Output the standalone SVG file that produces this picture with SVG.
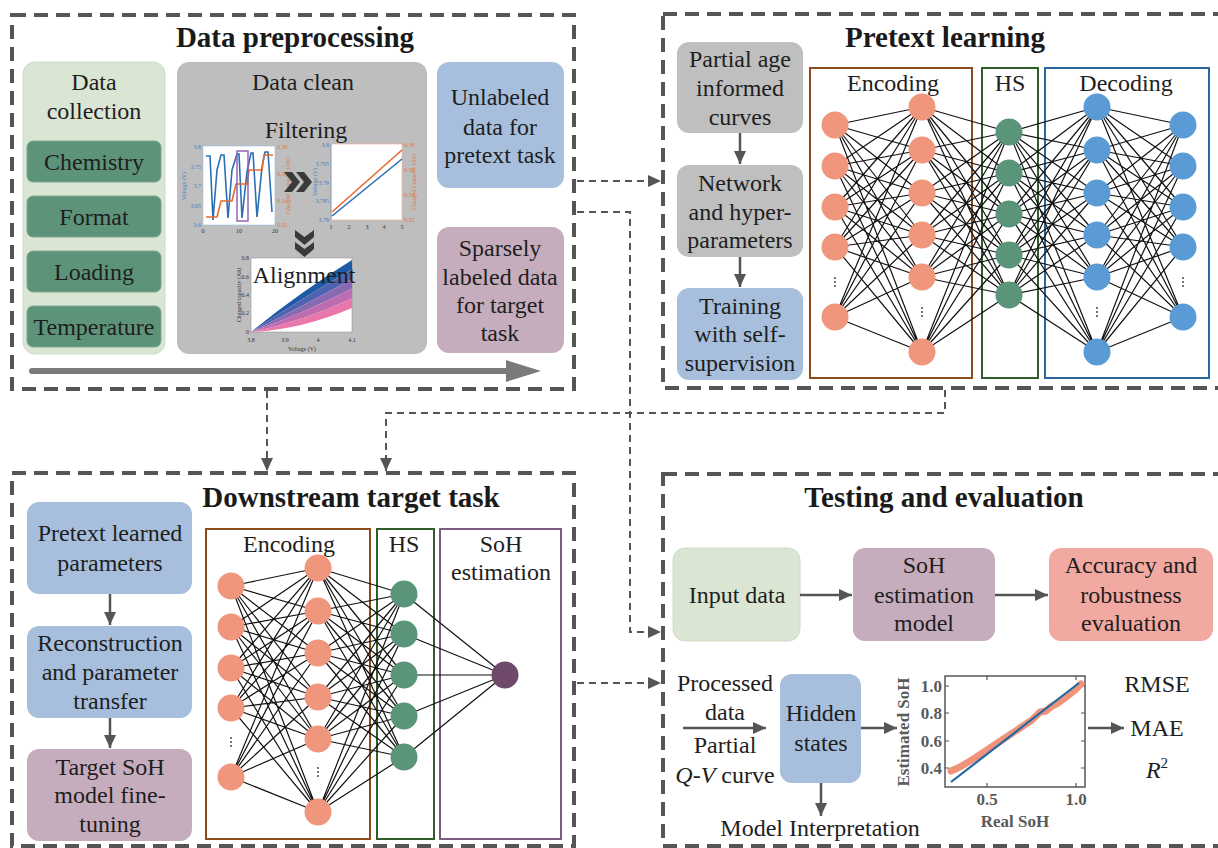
<svg xmlns="http://www.w3.org/2000/svg" width="1218" height="848" viewBox="0 0 1218 848">
<defs>
<style>
.t{font-family:"Liberation Serif","Times New Roman",serif;font-size:24px;fill:#1e1e1e;text-anchor:middle}
.ttl{font-family:"Liberation Serif","Times New Roman",serif;font-size:29px;font-weight:bold;fill:#1a1a1a;text-anchor:middle}
.dbox{fill:none;stroke:#555;stroke-width:4;stroke-dasharray:14 8}
.conn{fill:none;stroke:#555;stroke-width:2;stroke-dasharray:7 5}
.arr{fill:none;stroke:#555;stroke-width:2.5}
.edge{fill:none;stroke:#111;stroke-width:1.2}
.no{fill:#ef967c}
.ng{fill:#5a9479}
.nb{fill:#5b9bd5}
.sm{font-family:"Liberation Serif","Times New Roman",serif;font-size:6px}
.bl{fill:#3f80c4}
.or{fill:#e0773f}
.pl{font-family:"Liberation Serif","Times New Roman",serif;font-size:17px;fill:#5a5a5a;font-weight:bold}
.dot{fill:#333}
</style>
<marker id="ah" markerWidth="14" markerHeight="12" refX="13" refY="6" orient="auto" markerUnits="userSpaceOnUse">
<path d="M0,0 L13,6 L0,12 z" fill="#555"/>
</marker>
</defs>
<rect width="1218" height="848" fill="#ffffff"/>

<!-- Section frames -->
<g id="data-preprocessing">
<rect class="dbox" x="12" y="15" width="562" height="374"/>
<text class="ttl" x="295" y="47">Data preprocessing</text>
</g>
<g id="pretext-learning">
<rect class="dbox" x="663" y="14" width="580" height="374"/>
<text class="ttl" x="945" y="47">Pretext learning</text>
</g>
<g id="downstream-target-task">
<rect class="dbox" x="12" y="473" width="562" height="373"/>
<text class="ttl" x="351" y="507">Downstream target task</text>
</g>
<g id="testing-evaluation">
<rect class="dbox" x="663" y="474" width="580" height="372"/>
<text class="ttl" x="944" y="507">Testing and evaluation</text>
</g>

<!-- Data collection -->
<g id="data-collection">
<rect x="23" y="62" width="142" height="292" rx="12" fill="#dbe5d3" stroke="#cfdcc6"/>
<text class="t" x="94" y="90">Data</text>
<text class="t" x="94" y="119">collection</text>
</g>
<g id="chemistry"><rect x="27" y="141" width="134" height="41" rx="6" fill="#5d9479" stroke="#7aa890"/><text class="t" x="94" y="170">Chemistry</text></g>
<g id="format"><rect x="27" y="196" width="134" height="41" rx="6" fill="#5d9479" stroke="#7aa890"/><text class="t" x="94" y="225">Format</text></g>
<g id="loading"><rect x="27" y="251" width="134" height="41" rx="6" fill="#5d9479" stroke="#7aa890"/><text class="t" x="94" y="280">Loading</text></g>
<g id="temperature"><rect x="27" y="306" width="134" height="41" rx="6" fill="#5d9479" stroke="#7aa890"/><text class="t" x="94" y="335">Temperature</text></g>

<!-- Data clean -->
<g id="data-clean">
<rect x="177" y="62" width="250" height="292" rx="12" fill="#bebebe"/>
<text class="t" x="303" y="90">Data clean</text>
<text class="t" x="306" y="138">Filtering</text>
<!-- plot 1 -->
<rect x="203" y="146" width="72" height="79" fill="#fff" stroke="#9fbfe0" stroke-width="0.6"/>
<polyline fill="none" stroke="#2a6fb5" stroke-width="1.6" points="206,156 210,156 213,220 217,170 221,155 224,155 228,218 232,170 237,154 239,154 242,218 247,172 251,153 253,153 257,217 262,167 265,152 268,152 272,212"/>
<polyline fill="none" stroke="#e8692c" stroke-width="1.6" points="206,217 217,217 221,201 232,201 236,184 247,184 249,170 262,170 264,155 273,155"/>
<rect x="237" y="151" width="11" height="70" fill="none" stroke="#8a5ab0" stroke-width="1.4"/>
<g class="sm bl" text-anchor="end"><text x="201" y="149">3.8</text><text x="201" y="169">3.75</text><text x="201" y="188">3.7</text><text x="201" y="208">3.65</text><text x="201" y="227">3.6</text></g>
<g class="sm or"><text x="277" y="149">0.38</text><text x="277" y="176">0.36</text><text x="277" y="203">0.34</text><text x="277" y="227">0.32</text></g>
<g class="sm" fill="#333" text-anchor="middle"><text x="203" y="233">0</text><text x="239" y="233">10</text><text x="275" y="233">20</text></g>
<text class="sm bl" font-size="5.5" text-anchor="middle" transform="translate(186,186) rotate(-90)">Voltage (V)</text>
<text class="sm or" font-size="5.5" text-anchor="middle" transform="translate(290,186) rotate(-90)">Charged Capacity (Ah)</text>
<!-- plot 2 -->
<rect x="331" y="144" width="71" height="76" fill="#fff" stroke="#f0b090" stroke-width="0.6"/>
<line x1="331" y1="144" x2="331" y2="220" stroke="#5b9bd5" stroke-width="0.8"/>
<line x1="332" y1="216" x2="402" y2="159" stroke="#2a6fb5" stroke-width="1.6"/>
<line x1="332" y1="212" x2="402" y2="150" stroke="#e8692c" stroke-width="1.6"/>
<g class="sm bl" text-anchor="end"><text x="329" y="147">3.8</text><text x="329" y="166">3.795</text><text x="329" y="185">3.79</text><text x="329" y="203">3.785</text><text x="329" y="222">3.78</text></g>
<g class="sm or"><text x="404" y="147">0.38</text><text x="404" y="172">0.36</text><text x="404" y="197">0.34</text><text x="404" y="222">0.32</text></g>
<g class="sm" fill="#333" text-anchor="middle"><text x="331" y="229">1</text><text x="349" y="229">2</text><text x="367" y="229">3</text><text x="384" y="229">4</text><text x="402" y="229">5</text></g>
<text class="sm bl" font-size="5.5" text-anchor="middle" transform="translate(317,182) rotate(-90)">Voltage (V)</text>
<text class="sm or" font-size="5.5" text-anchor="middle" transform="translate(416,182) rotate(-90)">Charged Capacity (Ah)</text>
<!-- chevrons -->
<polygon fill="#3a3a3a" points="284,172 292,172 300,182 292,192 284,192 292,182"/>
<polygon fill="#3a3a3a" points="296,172 304,172 312,182 304,192 296,192 304,182"/>
<polygon fill="#3a3a3a" points="295,230 304.5,237 314,230 314,237 304.5,245 295,237"/>
<polygon fill="#3a3a3a" points="295,242 304.5,249 314,242 314,249 304.5,257 295,249"/>
<!-- plot 3 -->
<rect x="251" y="258" width="101" height="74" fill="#fff" stroke="#888" stroke-width="0.5"/>
<path d="M251,332 Q300,292 352,260 L352,269.6 Q300,299.6 251,332 Z" fill="#1f5aa6"/>
<path d="M251,332 Q300,299.6 352,269.6 L352,279.2 Q300,307.2 251,332 Z" fill="#4e62b0"/>
<path d="M251,332 Q300,307.2 352,279.2 L352,288.8 Q300,314.8 251,332 Z" fill="#8a69b3"/>
<path d="M251,332 Q300,314.8 352,288.8 L352,298.4 Q300,322.4 251,332 Z" fill="#bd6daf"/>
<path d="M251,332 Q300,322.4 352,298.4 L352,308 Q300,330 251,332 Z" fill="#ea77a9"/>
<g class="sm" fill="#333" text-anchor="end"><text x="249" y="260">0.8</text><text x="249" y="279">0.6</text><text x="249" y="297">0.4</text><text x="249" y="315">0.2</text><text x="249" y="334">0</text></g>
<g class="sm" fill="#333" text-anchor="middle"><text x="251" y="342">3.8</text><text x="285" y="342">3.9</text><text x="318" y="342">4</text><text x="352" y="342">4.1</text></g>
<text class="sm" fill="#333" font-size="6.5" text-anchor="middle" x="302" y="351">Voltage (V)</text>
<text class="sm" fill="#333" font-size="5.5" text-anchor="middle" transform="translate(241,295) rotate(-90)">Charged capacity (Ah)</text>
<text class="t" x="304" y="283">Alignment</text>
</g>

<g id="unlabeled-data">
<rect x="437" y="62" width="127" height="126" rx="12" fill="#a7bfdc"/>
<text class="t" x="500" y="105">Unlabeled</text>
<text class="t" x="500" y="135">data for</text>
<text class="t" x="500" y="163">pretext task</text>
</g>
<g id="sparsely-labeled-data">
<rect x="437" y="227" width="127" height="126" rx="12" fill="#c6adbd"/>
<text class="t" x="500" y="256">Sparsely</text>
<text class="t" x="500" y="285">labeled data</text>
<text class="t" x="500" y="313">for target</text>
<text class="t" x="500" y="341">task</text>
</g>
<g id="flow-arrow">
<line x1="32" y1="371" x2="510" y2="371" stroke="#7a7a7a" stroke-width="6" stroke-linecap="round"/>
<polygon points="506,360 541,371 506,382" fill="#7a7a7a"/>
</g>

<!-- Pretext learning nodes -->
<g id="partial-age-curves">
<rect x="677" y="42" width="126" height="91" rx="12" fill="#bfbfbf"/>
<text class="t" x="740" y="67">Partial age</text>
<text class="t" x="740" y="96">informed</text>
<text class="t" x="740" y="125">curves</text>
</g>
<g id="network-hyperparameters">
<rect x="677" y="165" width="126" height="92" rx="12" fill="#bfbfbf"/>
<text class="t" x="740" y="191">Network</text>
<text class="t" x="740" y="220">and hyper-</text>
<text class="t" x="740" y="248">parameters</text>
</g>
<g id="training-self-supervision">
<rect x="677" y="288" width="126" height="92" rx="12" fill="#a7bfdc"/>
<text class="t" x="740" y="314">Training</text>
<text class="t" x="740" y="342">with self-</text>
<text class="t" x="740" y="371">supervision</text>
</g>

<g id="pretext-network">
<rect x="810" y="68" width="162" height="310" fill="none" stroke="#8e4a1c" stroke-width="2"/>
<rect x="982" y="68" width="56" height="310" fill="none" stroke="#2f5e2a" stroke-width="2"/>
<rect x="1045" y="68" width="164" height="310" fill="none" stroke="#2b679f" stroke-width="2"/>
<text class="t" x="893" y="91">Encoding</text>
<text class="t" x="1010" y="91">HS</text>
<text class="t" x="1126" y="91">Decoding</text>
<path class="edge" d="M835 125L922 107M835 125L922 150M835 125L922 193M835 125L922 235M835 125L922 277M835 125L922 352M835 166L922 107M835 166L922 150M835 166L922 193M835 166L922 235M835 166L922 277M835 166L922 352M835 207L922 107M835 207L922 150M835 207L922 193M835 207L922 235M835 207L922 277M835 207L922 352M835 247L922 107M835 247L922 150M835 247L922 193M835 247L922 235M835 247L922 277M835 247L922 352M835 317L922 107M835 317L922 150M835 317L922 193M835 317L922 235M835 317L922 277M835 317L922 352"/>
<path class="edge" d="M922 107L1009 132M922 107L1009 173M922 107L1009 214M922 107L1009 255M922 107L1009 295M922 150L1009 132M922 150L1009 173M922 150L1009 214M922 150L1009 255M922 150L1009 295M922 193L1009 132M922 193L1009 173M922 193L1009 214M922 193L1009 255M922 193L1009 295M922 235L1009 132M922 235L1009 173M922 235L1009 214M922 235L1009 255M922 235L1009 295M922 277L1009 132M922 277L1009 173M922 277L1009 214M922 277L1009 255M922 277L1009 295M922 352L1009 132M922 352L1009 173M922 352L1009 214M922 352L1009 255M922 352L1009 295"/>
<path class="edge" d="M1009 132L1097 107M1009 132L1097 150M1009 132L1097 193M1009 132L1097 235M1009 132L1097 277M1009 132L1097 352M1009 173L1097 107M1009 173L1097 150M1009 173L1097 193M1009 173L1097 235M1009 173L1097 277M1009 173L1097 352M1009 214L1097 107M1009 214L1097 150M1009 214L1097 193M1009 214L1097 235M1009 214L1097 277M1009 214L1097 352M1009 255L1097 107M1009 255L1097 150M1009 255L1097 193M1009 255L1097 235M1009 255L1097 277M1009 255L1097 352M1009 295L1097 107M1009 295L1097 150M1009 295L1097 193M1009 295L1097 235M1009 295L1097 277M1009 295L1097 352"/>
<path class="edge" d="M1097 107L1183 125M1097 107L1183 166M1097 107L1183 207M1097 107L1183 247M1097 107L1183 317M1097 150L1183 125M1097 150L1183 166M1097 150L1183 207M1097 150L1183 247M1097 150L1183 317M1097 193L1183 125M1097 193L1183 166M1097 193L1183 207M1097 193L1183 247M1097 193L1183 317M1097 235L1183 125M1097 235L1183 166M1097 235L1183 207M1097 235L1183 247M1097 235L1183 317M1097 277L1183 125M1097 277L1183 166M1097 277L1183 207M1097 277L1183 247M1097 277L1183 317M1097 352L1183 125M1097 352L1183 166M1097 352L1183 207M1097 352L1183 247M1097 352L1183 317"/>
<g class="no"><circle cx="835" cy="125" r="13.5"/><circle cx="835" cy="166" r="13.5"/><circle cx="835" cy="207" r="13.5"/><circle cx="835" cy="247" r="13.5"/><circle cx="835" cy="317" r="13.5"/>
<circle cx="922" cy="107" r="13.5"/><circle cx="922" cy="150" r="13.5"/><circle cx="922" cy="193" r="13.5"/><circle cx="922" cy="235" r="13.5"/><circle cx="922" cy="277" r="13.5"/><circle cx="922" cy="352" r="13.5"/></g>
<g class="ng"><circle cx="1009" cy="132" r="13.5"/><circle cx="1009" cy="173" r="13.5"/><circle cx="1009" cy="214" r="13.5"/><circle cx="1009" cy="255" r="13.5"/><circle cx="1009" cy="295" r="13.5"/></g>
<g class="nb"><circle cx="1097" cy="107" r="13.5"/><circle cx="1097" cy="150" r="13.5"/><circle cx="1097" cy="193" r="13.5"/><circle cx="1097" cy="235" r="13.5"/><circle cx="1097" cy="277" r="13.5"/><circle cx="1097" cy="352" r="13.5"/>
<circle cx="1183" cy="125" r="13.5"/><circle cx="1183" cy="166" r="13.5"/><circle cx="1183" cy="207" r="13.5"/><circle cx="1183" cy="247" r="13.5"/><circle cx="1183" cy="317" r="13.5"/></g>
<g class="dot"><circle cx="835" cy="278" r="0.9"/><circle cx="835" cy="282" r="0.9"/><circle cx="835" cy="286" r="0.9"/>
<circle cx="922" cy="308" r="0.9"/><circle cx="922" cy="312" r="0.9"/><circle cx="922" cy="316" r="0.9"/>
<circle cx="1097" cy="308" r="0.9"/><circle cx="1097" cy="312" r="0.9"/><circle cx="1097" cy="316" r="0.9"/>
<circle cx="1183" cy="278" r="0.9"/><circle cx="1183" cy="282" r="0.9"/><circle cx="1183" cy="286" r="0.9"/></g>
</g>

<!-- Downstream nodes -->
<g id="pretext-learned-parameters">
<rect x="27" y="502" width="165" height="92" rx="12" fill="#a7bfdc"/>
<text class="t" x="110" y="541">Pretext learned</text>
<text class="t" x="110" y="571">parameters</text>
</g>
<g id="reconstruction-transfer">
<rect x="27" y="626" width="165" height="92" rx="12" fill="#a7bfdc"/>
<text class="t" x="110" y="651">Reconstruction</text>
<text class="t" x="110" y="680">and parameter</text>
<text class="t" x="110" y="709">transfer</text>
</g>
<g id="target-soh-finetuning">
<rect x="27" y="749" width="165" height="92" rx="12" fill="#c6adbd"/>
<text class="t" x="110" y="775">Target SoH</text>
<text class="t" x="110" y="803">model fine-</text>
<text class="t" x="110" y="832">tuning</text>
</g>

<g id="downstream-network">
<rect x="206" y="529" width="164" height="310" fill="none" stroke="#8e4a1c" stroke-width="2"/>
<rect x="377" y="529" width="57" height="310" fill="none" stroke="#2f5e2a" stroke-width="2"/>
<rect x="440" y="529" width="121" height="310" fill="none" stroke="#7d5a80" stroke-width="2"/>
<text class="t" x="289" y="552">Encoding</text>
<text class="t" x="404" y="552">HS</text>
<text class="t" x="501" y="552">SoH</text>
<text class="t" x="501" y="580">estimation</text>
<path class="edge" d="M231 586L318 568M231 586L318 611M231 586L318 653M231 586L318 697M231 586L318 739M231 586L318 812M231 627L318 568M231 627L318 611M231 627L318 653M231 627L318 697M231 627L318 739M231 627L318 812M231 668L318 568M231 668L318 611M231 668L318 653M231 668L318 697M231 668L318 739M231 668L318 812M231 708L318 568M231 708L318 611M231 708L318 653M231 708L318 697M231 708L318 739M231 708L318 812M231 777L318 568M231 777L318 611M231 777L318 653M231 777L318 697M231 777L318 739M231 777L318 812"/>
<path class="edge" d="M318 568L404 594M318 568L404 634M318 568L404 675M318 568L404 716M318 568L404 757M318 611L404 594M318 611L404 634M318 611L404 675M318 611L404 716M318 611L404 757M318 653L404 594M318 653L404 634M318 653L404 675M318 653L404 716M318 653L404 757M318 697L404 594M318 697L404 634M318 697L404 675M318 697L404 716M318 697L404 757M318 739L404 594M318 739L404 634M318 739L404 675M318 739L404 716M318 739L404 757M318 812L404 594M318 812L404 634M318 812L404 675M318 812L404 716M318 812L404 757"/>
<path class="edge" d="M404 594L505 675M404 634L505 675M404 675L505 675M404 716L505 675M404 757L505 675"/>
<g class="no"><circle cx="231" cy="586" r="13.5"/><circle cx="231" cy="627" r="13.5"/><circle cx="231" cy="668" r="13.5"/><circle cx="231" cy="708" r="13.5"/><circle cx="231" cy="777" r="13.5"/>
<circle cx="318" cy="568" r="13.5"/><circle cx="318" cy="611" r="13.5"/><circle cx="318" cy="653" r="13.5"/><circle cx="318" cy="697" r="13.5"/><circle cx="318" cy="739" r="13.5"/><circle cx="318" cy="812" r="13.5"/></g>
<g class="ng"><circle cx="404" cy="594" r="13.5"/><circle cx="404" cy="634" r="13.5"/><circle cx="404" cy="675" r="13.5"/><circle cx="404" cy="716" r="13.5"/><circle cx="404" cy="757" r="13.5"/></g>
<circle cx="505" cy="675" r="13.5" fill="#704a6a"/>
<g class="dot"><circle cx="231" cy="738" r="0.9"/><circle cx="231" cy="742" r="0.9"/><circle cx="231" cy="746" r="0.9"/>
<circle cx="318" cy="768" r="0.9"/><circle cx="318" cy="772" r="0.9"/><circle cx="318" cy="776" r="0.9"/></g>
</g>

<!-- Testing and evaluation nodes -->
<g id="input-data">
<rect x="673" y="548" width="127" height="93" rx="12" fill="#dbe5d3" stroke="#cfdcc6"/>
<text class="t" x="737" y="603">Input data</text>
</g>
<g id="soh-estimation-model">
<rect x="853" y="548" width="142" height="93" rx="12" fill="#c6adbd"/>
<text class="t" x="924" y="573">SoH</text>
<text class="t" x="924" y="603">estimation</text>
<text class="t" x="924" y="631">model</text>
</g>
<g id="accuracy-robustness">
<rect x="1049" y="548" width="164" height="93" rx="12" fill="#f2a9a1"/>
<text class="t" x="1131" y="573">Accuracy and</text>
<text class="t" x="1131" y="603">robustness</text>
<text class="t" x="1131" y="631">evaluation</text>
</g>
<g id="processed-data">
<text class="t" x="725" y="691">Processed</text>
<text class="t" x="725" y="720">data</text>
<text class="t" x="725" y="753">Partial</text>
<text class="t" x="725" y="783"><tspan font-style="italic">Q</tspan>-<tspan font-style="italic">V</tspan> curve</text>
</g>
<g id="hidden-states">
<rect x="780" y="674" width="81" height="109" rx="12" fill="#a7bfdc"/>
<text class="t" x="821" y="721">Hidden</text>
<text class="t" x="821" y="751">states</text>
</g>
<g id="model-interpretation">
<text class="t" x="820" y="836">Model Interpretation</text>
</g>
<g id="soh-plot">
<rect x="945" y="676" width="140" height="111" fill="#fff" stroke="#555" stroke-width="1.5"/>
<path d="M987 787v-4M1076 787v-4M987 676v4M1076 676v4M945 686h4M945 713h4M945 741h4M945 768h4M1085 686h-4M1085 713h-4M1085 741h-4M1085 768h-4" stroke="#555" stroke-width="1.2"/>
<polyline fill="none" stroke="#f0937a" stroke-width="7" stroke-linecap="round" stroke-linejoin="round" points="951,771 960,767 975,758 990,748 1005,738 1020,728 1032,720 1040,712 1046,711 1052,706 1058,703 1065,698 1075,690 1081,684"/>
<line x1="951" y1="782" x2="1079" y2="683" stroke="#1f6aa5" stroke-width="2.2"/>
<g class="pl" text-anchor="end"><text x="942" y="692">1.0</text><text x="942" y="719">0.8</text><text x="942" y="747">0.6</text><text x="942" y="774">0.4</text></g>
<g class="pl" text-anchor="middle"><text x="987" y="805">0.5</text><text x="1076" y="805">1.0</text></g>
<text class="pl" text-anchor="middle" x="1015" y="827">Real SoH</text>
<text class="pl" text-anchor="middle" transform="translate(909,732) rotate(-90)">Estimated SoH</text>
</g>
<g id="metrics">
<text class="t" x="1157" y="692">RMSE</text>
<text class="t" x="1157" y="736">MAE</text>
<text class="t" x="1157" y="778"><tspan font-style="italic">R</tspan><tspan font-size="15" dy="-10">2</tspan></text>
</g>

<!-- Connectors -->
<g id="connectors">
<path class="conn" d="M577 181 H661" marker-end="url(#ah)"/>
<path class="conn" d="M577 212 H630 V632 H661" marker-end="url(#ah)"/>
<path class="conn" d="M577 683 H661" marker-end="url(#ah)"/>
<path class="conn" d="M267 391 V471" marker-end="url(#ah)"/>
<path class="conn" d="M945 390 V413 H386 V471" marker-end="url(#ah)"/>
<path class="arr" d="M740 133 V164" marker-end="url(#ah)"/>
<path class="arr" d="M740 257 V287" marker-end="url(#ah)"/>
<path class="arr" d="M110 594 V625" marker-end="url(#ah)"/>
<path class="arr" d="M110 718 V748" marker-end="url(#ah)"/>
<path class="arr" d="M800 595 H852" marker-end="url(#ah)"/>
<path class="arr" d="M995 595 H1048" marker-end="url(#ah)"/>
<path class="arr" d="M683 728 H766" marker-end="url(#ah)"/>
<path class="arr" d="M861 728 H897" marker-end="url(#ah)"/>
<path class="arr" d="M821 783 V816" marker-end="url(#ah)"/>
<path class="arr" d="M1088 728 H1124" marker-end="url(#ah)"/>
</g>
</svg>
